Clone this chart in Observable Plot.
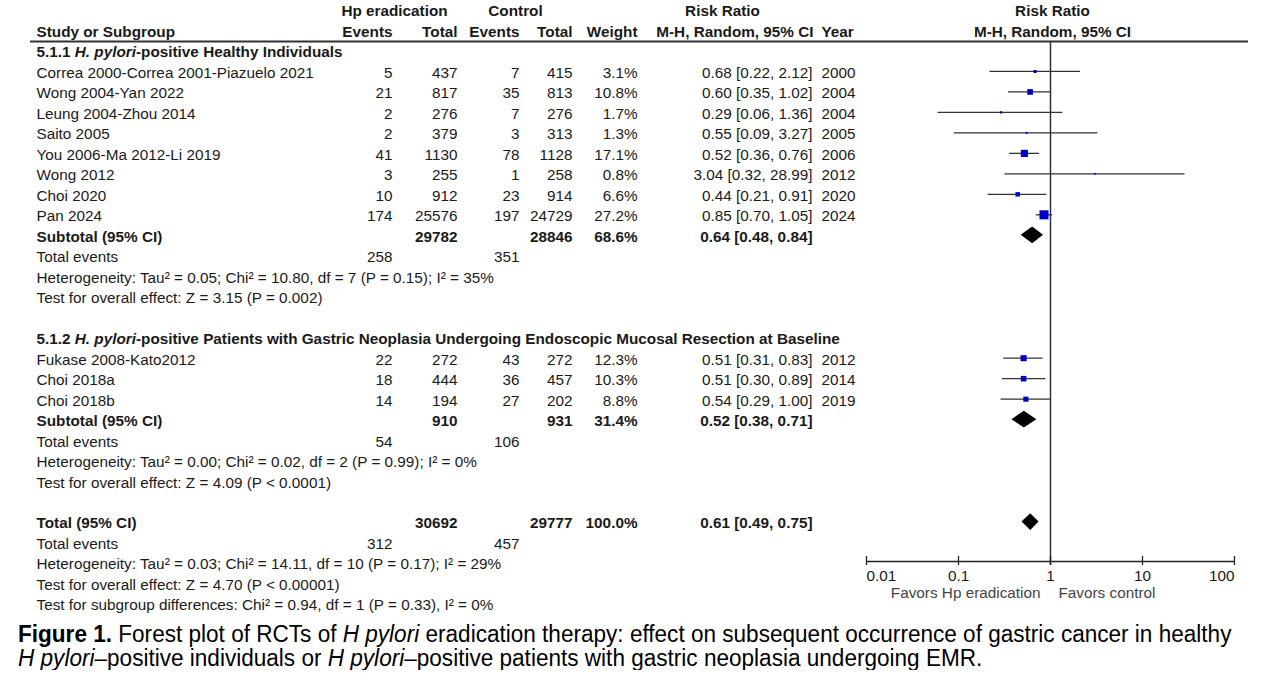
<!DOCTYPE html>
<html><head><meta charset="utf-8">
<script src="https://cdn.jsdelivr.net/npm/d3@7"></script>
<script src="https://cdn.jsdelivr.net/npm/@observablehq/plot@0.6"></script>
<style>
body{margin:0;background:#fff;overflow:hidden;}
#wrap{position:relative;width:1276px;height:615px;}
#wrap svg{position:absolute;left:0;top:0;}
#caption{margin:7px 0 0 18px;font-family:"Liberation Sans",Arial,sans-serif;font-size:23.5px;line-height:24px;color:#000;white-space:nowrap;transform:scaleX(0.96);transform-origin:0 0;}
</style></head><body>
<div id="wrap"></div>
<div id="caption"><b>Figure 1.</b> Forest plot of RCTs of <i>H pylori</i> eradication therapy: effect on subsequent occurrence of gastric cancer in healthy<br><i>H pylori</i>–positive individuals or <i>H pylori</i>–positive patients with gastric neoplasia undergoing EMR.</div>
<script>
// ---------- DATA ----------
const groupTitles = [
  "5.1.1 H. pylori-positive Healthy Individuals",
  "5.1.2 H. pylori-positive Patients with Gastric Neoplasia Undergoing Endoscopic Mucosal Resection at Baseline"
];
const group1Studies = ["Correa 2000-Correa 2001-Piazuelo 2021","Wong 2004-Yan 2022","Leung 2004-Zhou 2014","Saito 2005","You 2006-Ma 2012-Li 2019","Wong 2012","Choi 2020","Pan 2024"];
const group1EventsHp = [5,21,2,2,41,3,10,174];
const group1TotalHp = [437,817,276,379,1130,255,912,25576];
const group1EventsCtl = [7,35,7,3,78,1,23,197];
const group1TotalCtl = [415,813,276,313,1128,258,914,24729];
const group1Weight = [3.1,10.8,1.7,1.3,17.1,0.8,6.6,27.2];
const group1RR = [0.68,0.60,0.29,0.55,0.52,3.04,0.44,0.85];
const group1Lo = [0.22,0.35,0.06,0.09,0.36,0.32,0.21,0.70];
const group1Hi = [2.12,1.02,1.36,3.27,0.76,28.99,0.91,1.05];
const group1Year = [2000,2004,2004,2005,2006,2012,2020,2024];

const group2Studies = ["Fukase 2008-Kato2012","Choi 2018a","Choi 2018b"];
const group2EventsHp = [22,18,14];
const group2TotalHp = [272,444,194];
const group2EventsCtl = [43,36,27];
const group2TotalCtl = [272,457,202];
const group2Weight = [12.3,10.3,8.8];
const group2RR = [0.51,0.51,0.54];
const group2Lo = [0.31,0.30,0.29];
const group2Hi = [0.83,0.89,1.00];
const group2Year = [2012,2014,2019];

const summaryLabels = ["Subtotal (95% CI)","Subtotal (95% CI)","Total (95% CI)"];
const summaryTotalHp = [29782,910,30692];
const summaryTotalCtl = [28846,931,29777];
const summaryWeight = [68.6,31.4,100.0];
const summaryRR = [0.64,0.52,0.61];
const summaryLo = [0.48,0.38,0.49];
const summaryHi = [0.84,0.71,0.75];
const summaryEventsHp = [258,54,312];
const summaryEventsCtl = [351,106,457];
const heterogeneityText = [
  "Heterogeneity: Tau² = 0.05; Chi² = 10.80, df = 7 (P = 0.15); I² = 35%",
  "Heterogeneity: Tau² = 0.00; Chi² = 0.02, df = 2 (P = 0.99); I² = 0%",
  "Heterogeneity: Tau² = 0.03; Chi² = 14.11, df = 10 (P = 0.17); I² = 29%"
];
const overallEffectText = [
  "Test for overall effect: Z = 3.15 (P = 0.002)",
  "Test for overall effect: Z = 4.09 (P < 0.0001)",
  "Test for overall effect: Z = 4.70 (P < 0.00001)"
];
const subgroupText = "Test for subgroup differences: Chi² = 0.94, df = 1 (P = 0.33), I² = 0%";
const axisTicks = [0.01,0.1,1,10,100];
const favorsLabels = ["Favors Hp eradication","Favors control"];

// ---------- LAYOUT ----------
const W = 1276, H = 615;
const COL = {study:36, e1:392, n1:457, e2:519, n2:572, w:637, ci:812, year:821};
const HEAD_CENTER = {hp:394, ctl:515, rr:722, forest:1052};
const Y_DOMAIN = [-2, 27], Y_RANGE = [11, 605];
const HEADER_LINE_ROW = -0.535;
const AXIS_ROW = 24.85;
const GROUP_START = [0, 14];
const TOTAL_ROW = 23;
const FS = 15.3;
const TXT = "#1a1a1a";
const FONT = "'Liberation Sans', Arial, Helvetica, sans-serif";

const fmt2 = v => v.toFixed(2);
const ciText = (r,l,h) => `${fmt2(r)} [${fmt2(l)}, ${fmt2(h)}]`;

// ---------- BUILD TABLE ----------
const cells = [];
function cell(row, x, text, anchor, bold) { cells.push({row, x, text: String(text), anchor, bold: !!bold}); }

cell(-2, HEAD_CENTER.hp, "Hp eradication", "middle", true);
cell(-2, HEAD_CENTER.ctl, "Control", "middle", true);
cell(-2, HEAD_CENTER.rr, "Risk Ratio", "middle", true);
cell(-2, HEAD_CENTER.forest, "Risk Ratio", "middle", true);
cell(-1, COL.study, "Study or Subgroup", "start", true);
cell(-1, COL.e1, "Events", "end", true);
cell(-1, COL.n1, "Total", "end", true);
cell(-1, COL.e2, "Events", "end", true);
cell(-1, COL.n2, "Total", "end", true);
cell(-1, COL.w, "Weight", "end", true);
cell(-1, COL.ci+1, "M-H, Random, 95% CI", "end", true);
cell(-1, COL.year, "Year", "start", true);
cell(-1, HEAD_CENTER.forest, "M-H, Random, 95% CI", "middle", true);

const groups = [
  {studies:group1Studies, e1:group1EventsHp, n1:group1TotalHp, e2:group1EventsCtl, n2:group1TotalCtl, w:group1Weight, rr:group1RR, lo:group1Lo, hi:group1Hi, year:group1Year},
  {studies:group2Studies, e1:group2EventsHp, n1:group2TotalHp, e2:group2EventsCtl, n2:group2TotalCtl, w:group2Weight, rr:group2RR, lo:group2Lo, hi:group2Hi, year:group2Year}
];
const studyMarks = [];
const diamonds = [];
function summaryBlock(i, row) {
  cell(row, COL.study, summaryLabels[i], "start", true);
  cell(row, COL.n1, summaryTotalHp[i], "end", true);
  cell(row, COL.n2, summaryTotalCtl[i], "end", true);
  cell(row, COL.w, summaryWeight[i].toFixed(1) + "%", "end", true);
  cell(row, COL.ci, ciText(summaryRR[i], summaryLo[i], summaryHi[i]), "end", true);
  diamonds.push({id:i, row, rr:summaryRR[i], lo:summaryLo[i], hi:summaryHi[i]});
  cell(row+1, COL.study, "Total events", "start", false);
  cell(row+1, COL.e1, summaryEventsHp[i], "end", false);
  cell(row+1, COL.e2, summaryEventsCtl[i], "end", false);
  cell(row+2, COL.study, heterogeneityText[i], "start", false);
  cell(row+3, COL.study, overallEffectText[i], "start", false);
}
groups.forEach((g, gi) => {
  const r0 = GROUP_START[gi];
  cell(r0, COL.study, groupTitles[gi], "start", true);
  g.studies.forEach((s, k) => {
    const row = r0 + 1 + k;
    cell(row, COL.study, s, "start", false);
    cell(row, COL.e1, g.e1[k], "end", false);
    cell(row, COL.n1, g.n1[k], "end", false);
    cell(row, COL.e2, g.e2[k], "end", false);
    cell(row, COL.n2, g.n2[k], "end", false);
    cell(row, COL.w, g.w[k].toFixed(1) + "%", "end", false);
    cell(row, COL.ci, ciText(g.rr[k], g.lo[k], g.hi[k]), "end", false);
    cell(row, COL.year, g.year[k], "start", false);
    studyMarks.push({row, rr:g.rr[k], lo:g.lo[k], hi:g.hi[k], w:g.w[k]});
  });
  summaryBlock(gi, r0 + 1 + g.studies.length);
});
summaryBlock(2, TOTAL_ROW);
cell(TOTAL_ROW + 4, COL.study, subgroupText, "start", false);

const diamondPts = diamonds.flatMap(d => [
  {id:d.id, y:d.row - 0.41, x1:d.rr, x2:d.rr},
  {id:d.id, y:d.row, x1:d.lo, x2:d.hi},
  {id:d.id, y:d.row + 0.41, x1:d.rr, x2:d.rr}
]);

function textMarks(list) {
  const marks = [];
  for (const anchor of ["start","middle","end"]) for (const bold of [false,true]) {
    const sub = list.filter(c => c.anchor === anchor && c.bold === bold);
    if (sub.length) marks.push(Plot.text(sub, {x:"x", y:"row", text:"text", textAnchor:anchor, fontWeight: bold ? "bold" : "normal", fill:TXT, fontSize:FS}));
  }
  return marks;
}

const tablePlot = Plot.plot({
  width: W, height: H, margin: 0,
  style: {fontFamily: FONT, fontSize: FS + "px", background: "transparent", overflow: "visible"},
  x: {type: "linear", domain: [0, W], range: [0, W], axis: null},
  y: {type: "linear", domain: Y_DOMAIN, range: Y_RANGE, axis: null},
  marks: [
    Plot.ruleY([HEADER_LINE_ROW], {x1: 30, x2: 1248, stroke: "#333", strokeWidth: 2}),
    ...textMarks(cells)
  ]
});

const firstTick = axisTicks[0], lastTick = axisTicks[axisTicks.length - 1];
const midTicks = axisTicks.slice(1, -1);

const forestPlot = Plot.plot({
  width: W, height: H, margin: 0,
  style: {fontFamily: FONT, fontSize: FS + "px", background: "transparent", overflow: "visible"},
  x: {type: "log", domain: [firstTick, lastTick], range: [866, 1234], axis: null},
  y: {type: "linear", domain: Y_DOMAIN, range: Y_RANGE, axis: null},
  r: {type: "sqrt", domain: [0, 27.2], range: [0, 5.1]},
  marks: [
    Plot.ruleX([1], {y1: HEADER_LINE_ROW, y2: AXIS_ROW + 0.2, stroke: "#333", strokeWidth: 1.5}),
    Plot.ruleY(studyMarks, {y: "row", x1: "lo", x2: "hi", stroke: "#333", strokeWidth: 1.3, dy: -1.5}),
    Plot.dot(studyMarks, {x: "rr", y: "row", r: "w", symbol: "square", fill: "#0000c8", stroke: "none", dy: -1.5}),
    Plot.areaX(diamondPts, {x1: "x1", x2: "x2", y: "y", z: "id", fill: "#000", curve: "linear", dy: -1.5}),
    Plot.ruleY([AXIS_ROW], {x1: firstTick, x2: lastTick, stroke: "#222", strokeWidth: 1.5}),
    Plot.ruleX(axisTicks, {x: d => d, y1: AXIS_ROW - 0.25, y2: AXIS_ROW + 0.2, stroke: "#222", strokeWidth: 1.3}),
    Plot.text([firstTick], {x: d => d, y: AXIS_ROW + 0.7, text: d => String(d), textAnchor: "start", fill: TXT, fontSize: FS}),
    Plot.text(midTicks, {x: d => d, y: AXIS_ROW + 0.7, text: d => String(d), fill: TXT, fontSize: FS}),
    Plot.text([lastTick], {x: d => d, y: AXIS_ROW + 0.7, text: d => String(d), textAnchor: "end", fill: TXT, fontSize: FS}),
    Plot.text([favorsLabels[0]], {x: 1, y: AXIS_ROW + 1.56, text: d => d, textAnchor: "end", dx: -10, fill: "#444", fontSize: FS}),
    Plot.text([favorsLabels[1]], {x: 1, y: AXIS_ROW + 1.56, text: d => d, textAnchor: "start", dx: 8, fill: "#444", fontSize: FS})
  ]
});

const wrap = document.getElementById("wrap");
wrap.appendChild(tablePlot);
wrap.appendChild(forestPlot);

// italicise "H. pylori" in group headings (kept as real text)
const NS = "http://www.w3.org/2000/svg";
wrap.querySelectorAll("text").forEach(t => {
  const s = t.textContent;
  const idx = s.indexOf("H. pylori");
  if (idx < 0 || t.querySelector("tspan")) return;
  t.textContent = "";
  const parts = [[s.slice(0, idx), null], ["H. pylori", "italic"], [s.slice(idx + 9), null]];
  for (const [str, st] of parts) {
    const sp = document.createElementNS(NS, "tspan");
    sp.textContent = str;
    if (st) sp.setAttribute("font-style", st);
    t.appendChild(sp);
  }
});
</script>
</body></html>
